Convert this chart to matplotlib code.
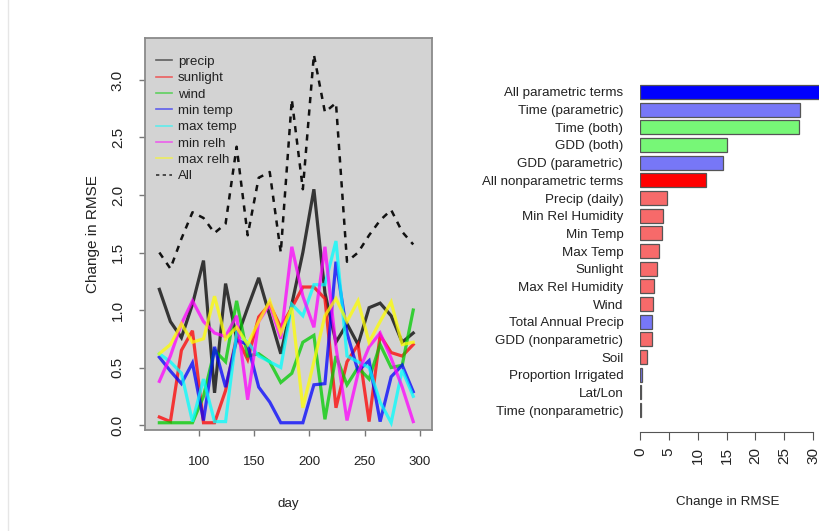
import matplotlib
matplotlib.use("Agg")
import matplotlib.pyplot as plt
from matplotlib.lines import Line2D
import numpy as np

# ---------------------------------------------------------------------------
# Data
# ---------------------------------------------------------------------------

days = [64, 74, 84, 94, 104, 114, 124, 134, 144, 154, 164, 174,
        184, 194, 204, 214, 224, 234, 244, 254, 264, 274, 284, 294]

precip   = [1.18, 0.90, 0.76, 1.05, 1.43, 0.28, 1.23, 0.75, 1.02, 1.28, 0.95, 0.62,
            1.05, 1.50, 2.05, 1.15, 0.72, 0.88, 0.70, 1.02, 1.06, 0.95, 0.72, 0.80]
sunlight = [0.07, 0.03, 0.65, 0.82, 0.02, 0.02, 0.30, 0.77, 0.57, 0.94, 1.05, 0.85,
            1.02, 1.20, 1.20, 1.10, 0.15, 0.55, 0.70, 0.03, 0.78, 0.63, 0.60, 0.70]
wind     = [0.02, 0.02, 0.02, 0.02, 0.25, 0.65, 0.55, 1.08, 0.60, 0.62, 0.55, 0.37,
            0.45, 0.72, 0.78, 0.05, 0.60, 0.35, 0.50, 0.40, 0.70, 0.50, 0.52, 1.00]
min_temp = [0.59, 0.47, 0.36, 0.54, 0.04, 0.68, 0.33, 0.74, 0.70, 0.33, 0.20, 0.02,
            0.02, 0.02, 0.35, 0.36, 1.42, 0.80, 0.47, 0.56, 0.03, 0.42, 0.52, 0.29]
max_temp = [0.62, 0.55, 0.45, 0.03, 0.40, 0.03, 0.03, 0.80, 0.72, 0.60, 0.55, 0.50,
            1.05, 0.95, 1.22, 1.22, 1.60, 0.60, 0.55, 0.50, 0.20, 0.02, 0.48, 0.25]
min_relh = [0.38, 0.60, 0.88, 1.08, 0.90, 0.80, 0.77, 0.95, 0.22, 0.90, 1.05, 0.75,
            1.55, 1.12, 0.85, 1.55, 0.68, 0.04, 0.45, 0.68, 0.80, 0.58, 0.33, 0.03]
max_relh = [0.62, 0.70, 0.88, 0.72, 0.75, 1.12, 0.75, 0.85, 0.70, 0.90, 1.08, 0.80,
            1.02, 0.15, 0.55, 0.95, 1.10, 0.90, 1.08, 0.72, 0.90, 1.07, 0.70, 0.72]
all_vars = [1.50, 1.36, 1.62, 1.85, 1.80, 1.67, 1.75, 2.42, 1.65, 2.15, 2.20, 1.50,
            2.83, 2.05, 3.22, 2.72, 2.80, 1.42, 1.50, 1.65, 1.78, 1.87, 1.68, 1.57]

series_names = ["precip", "sunlight", "wind", "min temp", "max temp",
                "min relh", "max relh"]
series_values = [precip, sunlight, wind, min_temp, max_temp, min_relh, max_relh]

bar_labels = ["All parametric terms", "Time (parametric)", "Time (both)",
              "GDD (both)", "GDD (parametric)", "All nonparametric terms",
              "Precip (daily)", "Min Rel Humidity", "Min Temp", "Max Temp",
              "Sunlight", "Max Rel Humidity", "Wind", "Total Annual Precip",
              "GDD (nonparametric)", "Soil", "Proportion Irrigated", "Lat/Lon",
              "Time (nonparametric)"]
bar_values = [32.0, 27.7, 27.6, 15.0, 14.4, 11.4, 4.7, 4.0, 3.8, 3.3,
              3.0, 2.4, 2.3, 2.1, 2.0, 1.2, 0.3, 0.2, 0.2]
bar_kinds = ["allpar", "par", "both", "both", "par", "allnon",
             "non", "non", "non", "non", "non", "non", "non", "par",
             "non", "non", "par", "par", "non"]

# ---------------------------------------------------------------------------
# Styling
# ---------------------------------------------------------------------------

W, H = 819, 531
FONT = ['Liberation Sans', 'DejaVu Sans']
TXT = '#222222'
FS_H = 9.6    # horizontal text (narrower in the reference)
FS_V = 11     # rotated text

line_colors = ['#000000', '#FF0000', '#00CD00', '#0000FF', '#00FFFF',
               '#FF00FF', '#FFFF00']
kind_colors = {"allpar": '#0000FF', "par": '#7777F7', "both": '#77F777',
               "allnon": '#FF0000', "non": '#F76A6A'}


def px_axes(fig, left, top, right, bottom):
    return fig.add_axes([left / W, 1 - bottom / H,
                         (right - left) / W, (bottom - top) / H])


fig = plt.figure(figsize=(W / 100, H / 100), dpi=100)

# faint page edge line at the far left
fig.add_artist(Line2D([8 / W, 8 / W], [0, 1], color='#e6e6e6', lw=1.0))

# ---------------------------------------------------------------------------
# Left: change in RMSE by day
# ---------------------------------------------------------------------------

ax = px_axes(fig, 145, 38, 432, 430)
ax.set_facecolor('#d3d3d3')
for name, vals, col in zip(series_names, series_values, line_colors):
    ax.plot(days, vals, color=col, lw=2.3, alpha=0.75, solid_joinstyle='miter')
ax.plot(days, all_vars, color='#111111', lw=1.8, linestyle=(0, (2.5, 2.5)))

ax.set_xlim(51, 311)
ax.set_ylim(-0.043, 3.365)
for sp in ax.spines.values():
    sp.set_color('#8a8a8a')
    sp.set_linewidth(1.3)

xt = [100, 150, 200, 250, 300]
ax.set_xticks(xt, [str(v) for v in xt], fontfamily=FONT, fontsize=FS_H, color=TXT)
yt = [0.0, 0.5, 1.0, 1.5, 2.0, 2.5, 3.0]
ax.set_yticks(yt, [f"{v:.1f}" for v in yt], fontfamily=FONT, fontsize=FS_V,
              color=TXT, rotation=90, va='center')
ax.tick_params(axis='both', direction='out', length=4.5, color='#777777', width=1)
ax.tick_params(axis='x', pad=14)
ax.tick_params(axis='y', pad=10)

ax.set_xlabel("day", fontfamily=FONT, fontsize=FS_H, color=TXT, labelpad=22)
ax.set_ylabel("Change in RMSE", fontfamily=FONT, fontsize=FS_V, color=TXT,
              labelpad=8)

handles = [Line2D([], [], color=c, lw=1.2, alpha=0.55) for c in line_colors]
handles.append(Line2D([], [], color='#333333', lw=1.2, linestyle=(0, (2, 2))))
leg = ax.legend(handles, series_names + ["All"], loc='upper left',
                bbox_to_anchor=(0.04, 0.955), frameon=False, borderpad=0,
                borderaxespad=0, labelspacing=0.3, handlelength=1.2,
                handletextpad=0.4, prop={'family': FONT, 'size': FS_H})
for t in leg.get_texts():
    t.set_color(TXT)

# ---------------------------------------------------------------------------
# Right: horizontal bar chart of term importance
# ---------------------------------------------------------------------------

px_per_unit = 5.767
ax2 = px_axes(fig, 640, 75, 640 + 33 * px_per_unit, 432)
pos = np.arange(len(bar_labels))
ax2.barh(pos, bar_values, height=0.8,
         color=[kind_colors[k] for k in bar_kinds],
         edgecolor='#555555', linewidth=0.9)
ax2.set_xlim(0, 33)
ax2.set_ylim(19.24, -0.96)
for side in ('top', 'right', 'left'):
    ax2.spines[side].set_visible(False)
ax2.spines['bottom'].set_bounds(0, 30)
ax2.spines['bottom'].set_color('#555555')
ax2.set_facecolor('none')

ax2.set_yticks(pos, bar_labels, fontfamily=FONT, fontsize=FS_H, color=TXT)
ax2.tick_params(axis='y', length=0, pad=12)
bt = [0, 5, 10, 15, 20, 25, 30]
ax2.set_xticks(bt, [str(v) for v in bt], fontfamily=FONT, fontsize=FS_V,
               color=TXT, rotation=90)
ax2.tick_params(axis='x', direction='out', length=5.8, color='#555555', pad=5)
ax2.set_xlabel("Change in RMSE", fontfamily=FONT, fontsize=FS_H, color=TXT)
ax2.xaxis.set_label_coords((728 - 640) / (33 * px_per_unit), -0.18)

fig.savefig("out.png", dpi=100)
